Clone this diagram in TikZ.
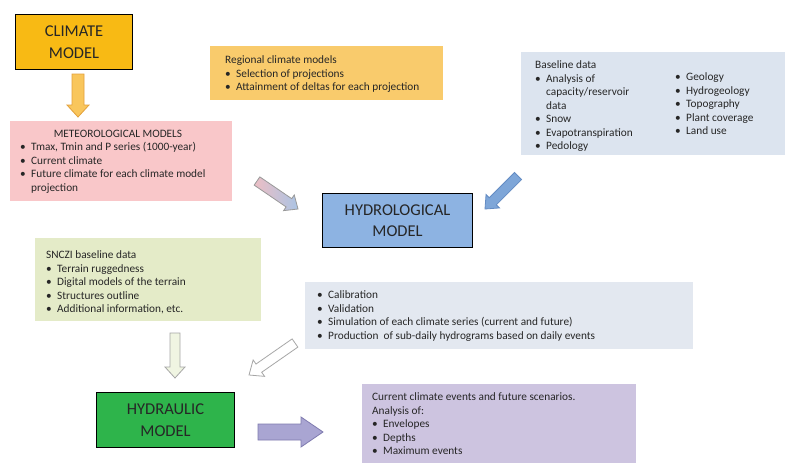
\documentclass[tikz,border=0pt]{standalone}
\usepackage{fontspec}
\setmainfont{Carlito}
\usetikzlibrary{calc}
\definecolor{txt}{HTML}{262626}
\definecolor{climfill}{HTML}{F8BA14}
\definecolor{regfill}{HTML}{F9CB6C}
\definecolor{basefill}{HTML}{DCE4EF}
\definecolor{metfill}{HTML}{F9C7C9}
\definecolor{hydrofill}{HTML}{8DB3E2}
\definecolor{sncfill}{HTML}{E4EBC8}
\definecolor{calfill}{HTML}{E3E8F0}
\definecolor{hydrafill}{HTML}{2EB44B}
\definecolor{purfill}{HTML}{CDC4E0}
\definecolor{aOfill}{HTML}{F9C65C}
\definecolor{aOdraw}{HTML}{E3A13C}
\definecolor{aPink}{HTML}{ECBEC4}
\definecolor{aLblue}{HTML}{AAC4E4}
\definecolor{aBfill}{HTML}{7EA6D8}
\definecolor{aBdraw}{HTML}{648CC3}
\definecolor{aGfill}{HTML}{F0F5E2}
\definecolor{aPfill}{HTML}{A9A5D2}
\definecolor{aPdraw}{HTML}{7F7BAF}
\newcommand{\bul}{\makebox[11pt][l]{\textbullet}}
\newcommand{\ind}{\hspace*{11pt}}
\newcommand{\blockarr}[6]{%
  \path ($(#2)!#5!(#1)$) coordinate (hb);
  \draw[#6] ($(#1)!#3!90:(#2)$) -- ($(hb)!#3!90:(#2)$) -- ($(hb)!#4!90:(#2)$) -- (#2)
    -- ($(hb)!#4!-90:(#2)$) -- ($(hb)!#3!-90:(#2)$) -- ($(#1)!#3!-90:(#2)$) -- cycle;}
\tikzset{
  modelbox/.style={draw=black, line width=1pt, anchor=north west, inner sep=0pt,
    align=center, font=\fontsize{16.5}{21.5}\selectfont, text=txt},
  infobox/.style={anchor=north west, inner sep=0pt, draw=none},
  infotext/.style={anchor=north west, inner sep=0pt, align=left,
    font=\fontsize{11.3}{13.5}\selectfont, text=txt},
  arrline/.style={line width=0.8pt},
}
\begin{document}
\begin{tikzpicture}[x=1pt,y=-1pt]
\useasboundingbox[fill=white] (0,0) rectangle (785,463);

% boxes
\node[modelbox, fill=climfill, minimum width=117pt, minimum height=55pt] (climate) at (15,14) {CLIMATE\\MODEL};
\node[infobox, fill=regfill, minimum width=233pt, minimum height=54pt] (regional) at (210,46) {};
\node[infobox, fill=basefill, minimum width=264pt, minimum height=103pt] (baseline) at (521,52) {};
\node[infobox, fill=metfill, minimum width=222pt, minimum height=80pt] (meteo) at (10,121) {};
\node[modelbox, fill=hydrofill, minimum width=150pt, minimum height=54pt] (hydro) at (322,193) {HYDROLOGICAL\\MODEL};
\node[infobox, fill=sncfill, minimum width=226pt, minimum height=83pt] (snczi) at (35,238) {};
\node[infobox, fill=calfill, minimum width=388pt, minimum height=67pt] (calib) at (305,282) {};
\node[modelbox, fill=hydrafill, minimum width=138pt, minimum height=55pt] (hydraulic) at (96,392) {HYDRAULIC\\MODEL};
\node[infobox, fill=purfill, minimum width=274pt, minimum height=79pt] (results) at (362,384) {};

% texts
\node[infotext] (regtext) at (225,55.5) {Regional climate models\\
\bul Selection of projections\\
\bul Attainment of deltas for each projection};

\node[infotext] (basetextl) at (535,60.5) {Baseline data\\
\bul Analysis of\\
\ind capacity/reservoir\\
\ind data\\
\bul Snow\\
\bul Evapotranspiration\\
\bul Pedology};
\node[infotext] (basetextr) at (675,72.5) {\bul Geology\\
\bul Hydrogeology\\
\bul Topography\\
\bul Plant coverage\\
\bul Land use};

\node[infotext, anchor=north] (mettitle) at (118,129.5) {METEOROLOGICAL MODELS};
\node[infotext] (mettext) at (20,142.5) {\bul Tmax, Tmin and P series (1000-year)\\
\bul Current climate\\
\bul Future climate for each climate model\\
\ind projection};

\node[infotext] (snctext) at (46,250.5) {SNCZI baseline data\\
\bul Terrain ruggedness\\
\bul Digital models of the terrain\\
\bul Structures outline\\
\bul Additional information, etc.};

\node[infotext] (caltext) at (317,290.5) {\bul Calibration\\
\bul Validation\\
\bul Simulation of each climate series (current and future)\\
\bul Production\ \ of sub-daily hydrograms based on daily events};

\node[infotext] (restext) at (372,392.5) {Current climate events and future scenarios.\\
Analysis of:\\
\bul Envelopes\\
\bul Depths\\
\bul Maximum events};

% arrows
\coordinate (a1s) at (78,74);   \coordinate (a1e) at (78,117);
\coordinate (a2s) at (257,181); \coordinate (a2e) at (298,209);
\coordinate (a3s) at (518,176); \coordinate (a3e) at (485,209);
\coordinate (a4s) at (175,333); \coordinate (a4e) at (175,378);
\coordinate (a5s) at (295,343); \coordinate (a5e) at (249,375);
\coordinate (a6s) at (258,432); \coordinate (a6e) at (323,432);

\blockarr{a1s}{a1e}{6pt}{11pt}{12pt}{fill=aOfill, draw=aOdraw, arrline}
\blockarr{a2s}{a2e}{5pt}{9.5pt}{11pt}{left color=aPink, right color=aLblue, draw=gray!80, arrline}
\blockarr{a3s}{a3e}{5pt}{9.5pt}{11pt}{fill=aBfill, draw=aBdraw, arrline}
\blockarr{a4s}{a4e}{5pt}{10pt}{11pt}{fill=aGfill, draw=gray!70, arrline}
\blockarr{a5s}{a5e}{5pt}{10pt}{12pt}{fill=white, draw=gray!70, arrline}
\blockarr{a6s}{a6e}{8pt}{15pt}{22pt}{fill=aPfill, draw=aPdraw, arrline}
\end{tikzpicture}
\end{document}
